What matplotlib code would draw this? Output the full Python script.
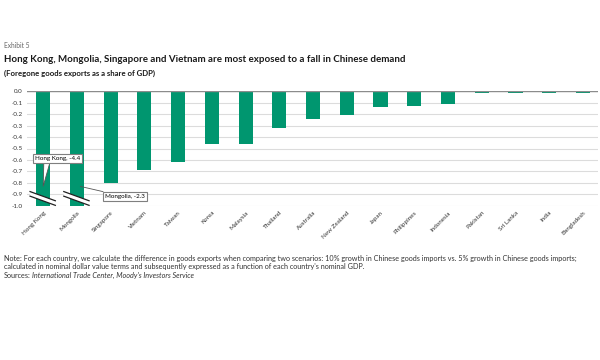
import numpy as np
import matplotlib.pyplot as plt
from matplotlib.patches import Polygon

plt.rcParams['font.family'] = ['Lato', 'DejaVu Sans']

# Foregone goods exports as a share of GDP
countries = ['Hong Kong', 'Mongolia', 'Singapore', 'Vietnam', 'Taiwan', 'Korea', 'Malaysia',
             'Thailand', 'Australia', 'New Zealand', 'Japan', 'Philippines', 'Indonesia',
             'Pakistan', 'Sri Lanka', 'India', 'Bangladesh']
values = [-4.4, -2.3, -0.80, -0.69, -0.62, -0.46, -0.46,
          -0.32, -0.24, -0.21, -0.14, -0.13, -0.11,
          -0.02, -0.02, -0.02, -0.015]
yticks = [0.0, -0.1, -0.2, -0.3, -0.4, -0.5, -0.6, -0.7, -0.8, -0.9, -1.0]

green = '#00966f'
dark = '#222222'

fig = plt.figure(figsize=(6, 3.6), dpi=100)
ax = fig.add_axes([0.045, 0.428, 0.952, 0.319])

x = np.arange(len(countries))
ax.bar(x, values, width=0.42, color=green, zorder=2)
ax.set_xlim(-0.48, len(countries) - 0.55)
ax.set_ylim(-1.0, 0.0)

ax.set_yticks(yticks)
ax.set_yticklabels([f'{v:.1f}' for v in yticks], fontsize=4.5, color='#333333')
ax.yaxis.grid(True, color='#dcdcdc', linewidth=0.8, zorder=0)
ax.axhline(0, color='#8c8c8c', linewidth=1.0, zorder=3)
ax.tick_params(axis='both', length=0, pad=3)
ax.set_xticks(x)
ax.set_xticklabels(countries, rotation=45, ha='right', rotation_mode='anchor',
                   fontsize=4.5, color='#333333')
for s in ax.spines.values():
    s.set_visible(False)

# axis break marks on the two clipped bars
for xi in [0, 1]:
    band = Polygon([(xi - 0.39, -0.875), (xi + 0.36, -0.955), (xi + 0.36, -0.995),
                    (xi - 0.39, -0.915)], closed=True, facecolor='white',
                   edgecolor='none', zorder=4, clip_on=False)
    ax.add_patch(band)
    ax.plot([xi - 0.39, xi + 0.36], [-0.875, -0.955], color=dark, lw=0.9, zorder=5, clip_on=False)
    ax.plot([xi - 0.39, xi + 0.36], [-0.915, -0.995], color=dark, lw=0.9, zorder=5, clip_on=False)

box = dict(boxstyle='square,pad=0.35', facecolor='white', edgecolor='#7f7f7f', linewidth=0.8)
# callout pointer for Hong Kong
pointer = Polygon([(0.02, -0.60), (0.22, -0.60), (0.0, -0.83)], closed=True,
                  facecolor='white', edgecolor='#555555', linewidth=0.6, zorder=5)
ax.add_patch(pointer)
ax.text(0.42, -0.585, 'Hong Kong, -4.4', fontsize=4.5, ha='center', va='center',
        bbox=box, zorder=6)
ax.annotate('Mongolia, -2.3', xy=(1.1, -0.83), xytext=(2.43, -0.92),
            fontsize=4.5, ha='center', va='center', bbox=box, zorder=6,
            arrowprops=dict(arrowstyle='-', color='#555555', linewidth=0.6,
                            shrinkA=0, shrinkB=0))

fig.text(0.006, 0.868, 'Exhibit 5', fontsize=4.8, color='#666666')
fig.text(0.006, 0.828, 'Hong Kong, Mongolia, Singapore and Vietnam are most exposed to a fall in Chinese demand',
         fontsize=7.0, fontweight='bold', color='#1a1a1a')
fig.text(0.006, 0.790, '(Foregone goods exports as a share of GDP)', fontsize=5.6,
         fontweight='bold', color='#1a1a1a')

note1 = ('Note: For each country, we calculate the difference in goods exports when comparing two scenarios: '
         '10% growth in Chinese goods imports vs. 5% growth in Chinese goods imports;')
note2 = ("calculated in nominal dollar value terms and subsequently expressed as a function of "
         "each country's nominal GDP.")
fs = 5.2
fig.text(0.006, 0.275, note1, fontsize=fs, color='#333333')
fig.text(0.006, 0.252, note2, fontsize=fs, color='#333333')
fig.text(0.006, 0.229, 'Sources:', fontsize=fs, color='#333333')
fig.text(0.053, 0.229, "International Trade Center, Moody's Investors Service", fontsize=fs,
         color='#333333', style='italic')

fig.savefig('out.png', dpi=100, facecolor='white')
